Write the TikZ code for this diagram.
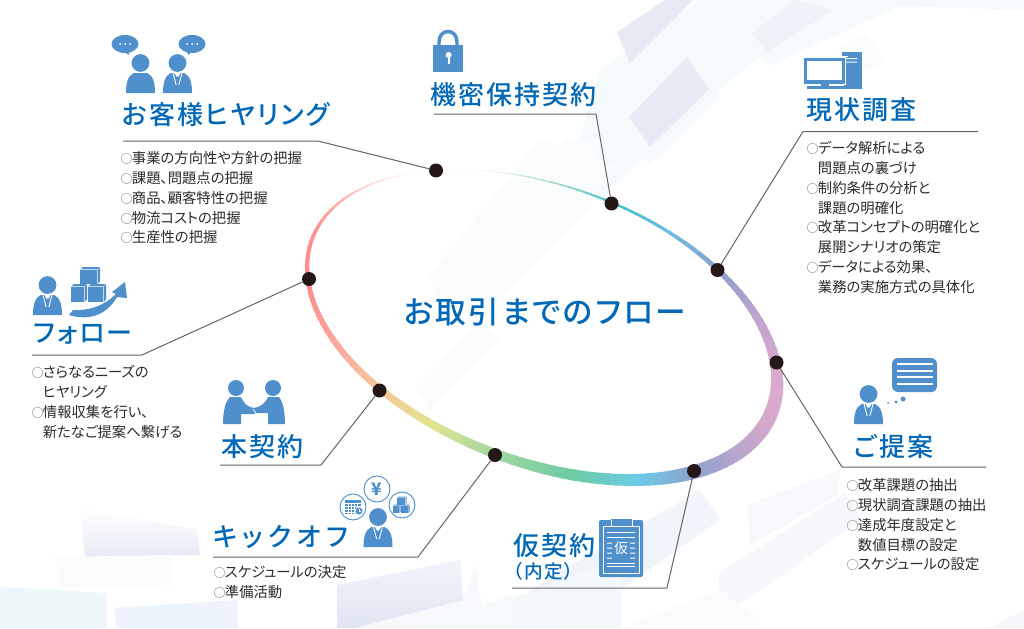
\documentclass[tikz,border=0pt]{standalone}
\usepackage{fontspec}
\setmainfont{Noto Sans CJK JP}
\newfontfamily\bodyf[RawFeature=+palt]{Noto Sans CJK JP}
\newfontfamily\titlef[RawFeature=+palt,LetterSpace=8]{Noto Sans CJK JP Medium}
\newfontfamily\titlek[RawFeature=+palt,LetterSpace=20]{Noto Sans CJK JP Medium}
\newfontfamily\centerf[RawFeature=+palt,LetterSpace=8]{Noto Sans CJK JP Medium}
\definecolor{ic}{HTML}{4F8FCC}
\definecolor{ttl}{HTML}{0068B7}
\definecolor{txt}{HTML}{2E2A28}
\definecolor{lnk}{HTML}{6B6361}
\definecolor{bulc}{HTML}{6F6C6A}
\definecolor{dotc}{HTML}{231815}
\newcommand{\bul}{\makebox[8pt][c]{\textcolor{bulc}{\fontsize{9}{9}\selectfont ○}}}
\newcommand{\ind}{\hspace*{8pt}}
\tikzset{
  x=0.75pt,y=-0.75pt,
  title/.style={anchor=west,inner sep=0pt,text=ttl,font=\titlef\fontsize{19.5}{21}\selectfont},
  body/.style={anchor=north west,inner sep=0pt,align=left,text=txt,font=\bodyf\fontsize{10.75}{14.8}\selectfont},
  link/.style={draw=lnk,line width=0.75pt,line join=miter},
  dotn/.style={circle,fill=dotc,minimum size=10.5pt,inner sep=0pt},
  person/.pic={
    \fill[ic] (0,-30) circle (8.9);
    \fill[ic] (-14.5,0) .. controls (-14.5,-9) and (-13,-17) .. (-7,-19.8) -- (7,-19.8) .. controls (13,-17) and (14.5,-9) .. (14.5,0) -- cycle;
  },
  suit/.pic={
    \fill[ic] (0,-30) circle (8.9);
    \fill[ic] (-14.5,0) .. controls (-14.5,-9) and (-13,-17) .. (-7,-19.8) -- (7,-19.8) .. controls (13,-17) and (14.5,-9) .. (14.5,0) -- cycle;
    \draw[white,line width=0.65pt] (-4.5,-20) -- (-1.3,-8) (4.5,-20) -- (1.3,-8);
    \fill[white] (-3,-20) -- (3,-20) -- (1,-16.5) -- (-1,-16.5) -- cycle;
  },
  cubes/.pic={
    \foreach \cx/\cy/\cw/\ch in {-10/-18/20/17,-19/-1/16/18,-2/-1/18/18}{
      \fill[ic] (\cx,\cy+3) rectangle (\cx+\cw-3,\cy+\ch);
      \fill[ic] (\cx+0.3,\cy+2.4) -- (\cx+3,\cy) -- (\cx+\cw,\cy) -- (\cx+\cw-2.6,\cy+2.4) -- cycle;
      \fill[ic] (\cx+\cw-2.4,\cy+3) -- (\cx+\cw,\cy+0.6) -- (\cx+\cw,\cy+\ch-2.6) -- (\cx+\cw-2.4,\cy+\ch) -- cycle;
    }
  },
}
\begin{document}
\begin{tikzpicture}
\useasboundingbox (0,0) rectangle (1024,628);
\fill[white] (0,0) rectangle (1024,628);
% background
\definecolor{w1}{HTML}{F4FAFC}\definecolor{w2}{HTML}{F9FBFD}
\definecolor{p1}{HTML}{E5EAF5}\definecolor{p2}{HTML}{E8EBF6}\definecolor{p3}{HTML}{EEF2F9}
\fill[w1] (600,70) -- (700,0) -- (830,0) -- (700,105) -- (620,180) -- (600,200) -- (565,190) -- cycle;
\fill[w1] (613,115) -- (683,43) -- (720,95) -- (650,165) -- cycle;
\fill[w1] (745,40) -- (790,0) -- (1024,0) -- (1024,10) -- (900,6) -- (770,65) -- cycle;
\fill[w2] (840,45) -- (867,33) -- (885,62) -- (858,75) -- cycle;
\fill[p1] (617,32) -- (665,0) -- (693,0) -- (630,63) -- cycle;
\fill[p2] (687,57) -- (709,89) -- (650,147) -- (629,117) -- cycle;
\fill[p3] (752,33) -- (795,0) -- (833,10) -- (767,52) -- cycle;
\fill[w2] (430,275) -- (540,140) -- (620,165) -- (500,300) -- (440,310) -- cycle;
\fill[w2] (540,180) -- (565,140) -- (600,140) -- (590,210) -- (500,300) -- cycle;
\fill[w2] (415,390) -- (480,320) -- (500,340) -- (430,410) -- cycle;
% bottom
\definecolor{q1}{HTML}{E6EAF5}\definecolor{q2}{HTML}{EEF7FA}\definecolor{q3}{HTML}{ECF3FA}
\definecolor{q4}{HTML}{E0E5F3}\definecolor{q5}{HTML}{F1F4FA}\definecolor{q6}{HTML}{F5F7FB}
\definecolor{q7}{HTML}{F6F8FC}\definecolor{q8}{HTML}{F3F9FB}
\shade[top color=white,bottom color=q1] (80,508) -- (197,530) -- (200,555) -- (85,557) -- cycle;
\fill[w2] (55,557) -- (172,555) -- (172,585) -- (60,588) -- cycle;
\fill[q2] (0,587) -- (107,593) -- (107,628) -- (0,628) -- cycle;
\fill[q3] (115,608) -- (237,600) -- (238,628) -- (116,628) -- cycle;
\fill[q7] (463,600) -- (476,565) -- (482,610) -- (420,628) -- (355,628) -- cycle;
\shade[top color=q5,bottom color=q4] (337,585) -- (460,560) -- (463,600) -- (355,628) -- (337,628) -- cycle;
\fill[w1] (420,628) -- (512,595) -- (512,628) -- cycle;
\fill[q5] (530,590) -- (700,490) -- (720,520) -- (620,590) -- (560,628) -- (520,628) -- cycle;
\fill[q6] (719,573) -- (845,493) -- (862,520) -- (745,600) -- (719,617) -- cycle;
\fill[q7] (748,505) -- (840,470) -- (838,495) -- (750,545) -- cycle;
\fill[q8] (512,628) -- (512,598) -- (620,560) -- (622,628) -- cycle;
\fill[w2] (620,628) -- (720,590) -- (760,620) -- (760,628) -- cycle;
\fill[q6] (990,628) -- (1024,610) -- (1024,628) -- cycle;
% ring: a rotated ellipse with colour and width varying along it
\def\KT{-129,-115,-102,-85,-72,-54,-37.5,-20,-8,6,21,38,53,70,90,105,121,138,161,181,200,216,231}
\def\KR{255,238,170,60,105,145,190,215,220,212,185,140,108,110,165,226,246,251,254,255,255,255,255}
\def\KG{255,245,222,192,190,160,165,170,170,168,166,163,203,203,217,227,201,167,138,143,181,229,255}
\def\KB{255,228,190,200,225,205,205,205,205,204,205,206,232,164,160,143,153,159,140,143,176,224,255}
\def\KW{0.2,0.6,1.2,2.2,3.2,5.5,8,11,13,14.5,14.5,13.5,12,11,9.5,8,7,6,4.5,3.5,2,1,0.2}
\foreach \i in {0,...,21}{
  \pgfmathtruncatemacro\ib{\i+1}
  \pgfmathsetmacro\ta{{\KT}[\i]}\pgfmathsetmacro\tb{{\KT}[\ib]}
  \pgfmathsetmacro\rb{{\KR}[\i]}\pgfmathsetmacro\rc{{\KR}[\ib]}
  \pgfmathsetmacro\gb{{\KG}[\i]}\pgfmathsetmacro\gc{{\KG}[\ib]}
  \pgfmathsetmacro\bb{{\KB}[\i]}\pgfmathsetmacro\bc{{\KB}[\ib]}
  \pgfmathsetmacro\wb{{\KW}[\i]}\pgfmathsetmacro\wc{{\KW}[\ib]}
  \foreach \k in {0,...,7}{
    \pgfmathsetmacro\s{\k/8}
    \pgfmathsetmacro\e{(\k+1.25)/8}
    \pgfmathsetmacro\tp{\ta+(\tb-\ta)*\s}
    \pgfmathsetmacro\tq{\ta+(\tb-\ta)*\e}
    \pgfmathsetmacro\rp{1.0+0.015*exp(-((\tp+70)/35)^2)-0.008*exp(-((\tp-95)/30)^2)}
    \pgfmathsetmacro\rq{1.0+0.015*exp(-((\tq+70)/35)^2)-0.008*exp(-((\tq-95)/30)^2)}
    \pgfmathsetmacro\xp{542+\rp*(245.5*cos(\tp)*cos(20.5)-138*sin(\tp)*sin(20.5))}
    \pgfmathsetmacro\yp{325+\rp*(245.5*cos(\tp)*sin(20.5)+138*sin(\tp)*cos(20.5))}
    \pgfmathsetmacro\xq{542+\rq*(245.5*cos(\tq)*cos(20.5)-138*sin(\tq)*sin(20.5))}
    \pgfmathsetmacro\yq{325+\rq*(245.5*cos(\tq)*sin(20.5)+138*sin(\tq)*cos(20.5))}
    \pgfmathtruncatemacro\cr{\rb+(\rc-\rb)*\s}
    \pgfmathtruncatemacro\cg{\gb+(\gc-\gb)*\s}
    \pgfmathtruncatemacro\cb{\bb+(\bc-\bb)*\s}
    \pgfmathsetmacro\wd{(\wb+(\wc-\wb)*\s)*0.75}
    \definecolor{seg}{RGB}{\cr,\cg,\cb}
    \draw[seg,line width=\wd pt] (\xp,\yp) -- (\xq,\yq);
  }
}
% dots
\node[dotn] (hearing) at (436,170.5) {};
\node[dotn] (nda) at (611.5,203.5) {};
\node[dotn] (survey) at (717.5,270) {};
\node[dotn] (prop) at (776.5,362.5) {};
\node[dotn] (temp) at (694,471) {};
\node[dotn] (kick) at (495,455) {};
\node[dotn] (main) at (379.5,390.5) {};
\node[dotn] (follow) at (309,279) {};
% connectors
\coordinate (hs) at (123,141); \coordinate (hc) at (318,141);
\coordinate (ns) at (434,114); \coordinate (nc) at (596,114);
\coordinate (ss) at (978,131.5); \coordinate (sc) at (803,131.5);
\coordinate (ps) at (986,467); \coordinate (pc) at (842,467);
\coordinate (ts) at (512,588); \coordinate (tc) at (667,588);
\coordinate (ks) at (213,557); \coordinate (kc) at (418,557);
\coordinate (ms) at (220,465); \coordinate (mc) at (321,465);
\coordinate (fs) at (32,355); \coordinate (fc) at (142,355);
\draw[link] (hs) -- (hc) -- (hearing);
\draw[link] (ns) -- (nc) -- (nda);
\draw[link] (ss) -- (sc) -- (survey);
\draw[link] (ps) -- (pc) -- (prop);
\draw[link] (ts) -- (tc) -- (temp);
\draw[link] (ks) -- (kc) -- (kick);
\draw[link] (ms) -- (mc) -- (main);
\draw[link] (fs) -- (fc) -- (follow);
% titles
\node[title] (t1) at (122,115) {お客様ヒヤリング};
\node[title] (t2) at (430,94.5) {機密保持契約};
\node[title] (t3) at (806,109.5) {現状調査};
\node[title] (t4) at (854,446.5) {ご提案};
\node[title] (t5) at (33,334.5) {フォロー};
\node[title] (t6) at (221,446.5) {本契約};
\node[title,font=\titlek\fontsize{19.5}{21}\selectfont] (t7) at (213,536.5) {キックオフ};
\node[title] (t8) at (513,545.5) {仮契約};
\node[title,font=\titlef\fontsize{14}{15}\selectfont] (t9) at (513,571) {（内定）};
\node[anchor=center,inner sep=0pt,text=ttl,font=\centerf\fontsize{23}{25}\selectfont] (tc0) at (545,312) {お取引までのフロー};
% lists
\node[body] (b1) at (121,151.5) {\bul 事業の方向性や方針の把握\\\bul 課題、問題点の把握\\\bul 商品、顧客特性の把握\\\bul 物流コストの把握\\\bul 生産性の把握};
\node[body] (b2) at (807,141.5) {\bul データ解析による\\\ind 問題点の裏づけ\\\bul 制約条件の分析と\\\ind 課題の明確化\\\bul 改革コンセプトの明確化と\\\ind 展開シナリオの策定\\\bul データによる効果、\\\ind 業務の実施方式の具体化};
\node[body] (b3) at (847,478.5) {\bul 改革課題の抽出\\\bul 現状調査課題の抽出\\\bul 達成年度設定と\\\ind 数値目標の設定\\\bul スケジュールの設定};
\node[body] (b4) at (32,365.5) {\bul さらなるニーズの\\\ind ヒヤリング\\\bul 情報収集を行い、\\\ind 新たなご提案へ繋げる};
\node[body] (b5) at (214,565.5) {\bul スケジュールの決定\\\bul 準備活動};
% icons: hearing
\pic at (140.5,93) {person};
\pic at (177.5,93) {suit};
\fill[ic] (125,44) ellipse (13.5 and 9);
\fill[ic] (124,52) -- (129,55) -- (129,51) -- cycle;
\fill[ic] (192,44) ellipse (13.5 and 9);
\fill[ic] (187,51) -- (188,55) -- (193,51) -- cycle;
\foreach \dx in {-5,0,5}{
  \fill[white] (125+\dx,44) circle (1);
  \fill[white] (192+\dx,44) circle (1);
}
% lock
\draw[ic,line width=2.6pt] (439,46) -- (439,42) .. controls (439,28) and (457,28) .. (457,42) -- (457,46);
\fill[ic] (433,45) rectangle (463,72);
\fill[white] (448.5,55) circle (3);
\fill[white] (447.5,56) rectangle (449.5,63.5);
% computer
\fill[ic] (842,52) rectangle (862,89);
\fill[white] (840,56) rectangle (848,86);
\fill[ic] (846,57) rectangle (861,86);
\fill[white] (846,58) rectangle (857,59) (846,61.5) rectangle (857,62.5);
\fill[ic] (804,58) rectangle (845,84);
\fill[white] (807,61) rectangle (842,80);
\fill[ic] (821,84) rectangle (829,86);
\fill[ic] (807,86) rectangle (843,89);
\fill[ic] (844,85) rectangle (862,89);
% proposal
\pic at (868.5,424) {suit};
\fill[ic,rounded corners=4.5pt] (892,358) rectangle (937,392);
\foreach \yy in {364,371,377,384}{\fill[white] (897,\yy-0.6) rectangle (933,\yy+0.6);}
\fill[ic] (903,399) circle (2.5);
\fill[ic] (896,402) circle (1.7);
\fill[ic] (888,403) circle (1);
% follow
\pic at (47.5,315) {suit};
\pic at (90,285) {cubes};
\fill[ic] (69,315) .. controls (85,320) and (105,318) .. (117,297) -- (127,298) -- (125,282) -- (112,292) -- (116,294) .. controls (105,305) and (90,311) .. (73,310) -- cycle;
% handshake
\fill[ic] (236,388) circle (8);
\fill[ic] (273,388) circle (8);
\fill[ic] (223,424) .. controls (223,412) and (225,402) .. (230,397) -- (241,397) .. controls (244,404) and (248,407) .. (254,408) .. controls (260,407) and (265,404) .. (268,397) -- (279,397) .. controls (283,402) and (285,412) .. (285,424) -- (268,424) -- (268,413) -- (257,413) -- (253,414) -- (241,414) -- (241,424) -- cycle;
\draw[white,line width=0.5pt] (253,409) -- (256,413);
% clipboard
\fill[ic,rounded corners=1.5pt] (599,520) rectangle (643,577);
\draw[white,line width=0.5pt] (603,526) rectangle (639,573);
\fill[ic] (611,518.5) rectangle (632,526);
\draw[white,line width=0.6pt] (611,520) -- (611,526.5) -- (632,526.5) -- (632,520);
\foreach \yy in {532,537,563,566.5}{\fill[white] (607,\yy-0.5) rectangle (635,\yy+0.5);}
\foreach \yy in {543,548,553,558}{\fill[white] (607,\yy-0.5) rectangle (612,\yy+0.5) (630,\yy-0.5) rectangle (635,\yy+0.5);}
\node[inner sep=0pt,text=white,font=\bodyf\fontsize{10.5}{12}\selectfont] (kari) at (621,548) {仮};
% kickoff
\pic at (378,547) {suit};
\foreach \nm/\cx/\cy in {ya/377/489,ca/353/507,bo/402/505}{
  \draw[ic,fill=white,line width=0.7pt] (\cx,\cy) circle (13);
}
\node[inner sep=0pt,text=ic,font=\bodyf\bfseries\fontsize{13}{14}\selectfont] (yen) at (377,489) {¥};
\fill[ic] (345,500) rectangle (361,514);
\fill[white] (345,503) rectangle (361,503.6);
\foreach \xx in {348,351,354,357}{\fill[white] (\xx,503) rectangle (\xx+0.4,514);}
\foreach \yy in {506,509,512}{\fill[white] (345,\yy) rectangle (361,\yy+0.4);}
\draw[white,fill=ic,line width=0.5pt] (359,511) circle (4);
\draw[white,line width=0.4pt] (359,509) -- (359,511) -- (361,511);
\pic[scale=0.47] at (402,505) {cubes};
\end{tikzpicture}
\end{document}
